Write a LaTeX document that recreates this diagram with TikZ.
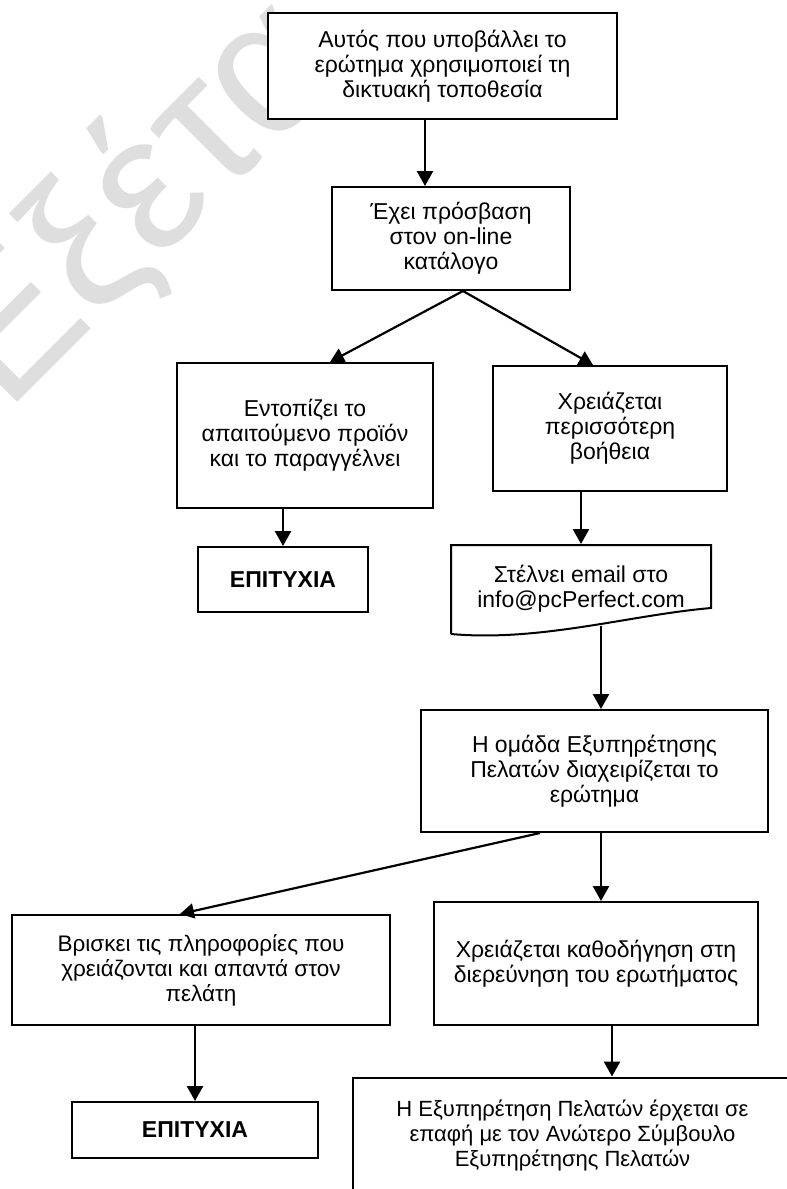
\documentclass[tikz,border=0pt]{standalone}
\usepackage{fontspec}
\setmainfont{Liberation Sans}
\usetikzlibrary{arrows.meta,calc}
\begin{document}
\begin{tikzpicture}[x=1pt,y=-1pt,
  box/.style={draw=black, line width=2pt, fill=white, align=center, inner sep=0pt,
    font=\fontsize{23}{25}\selectfont},
  boldbox/.style={box, font=\fontsize{23}{25}\selectfont\bfseries},
  wmark/.style={text=black!13, inner sep=0pt, font=\fontsize{192}{192}\selectfont},
  varr/.style={line width=2.6pt, -{Triangle[length=15pt,width=16pt]}},
  darr/.style={line width=2.2pt, -{Triangle[length=14pt,width=15pt]}}]
\clip (0,0) rectangle (787,1189);
\fill[white] (0,0) rectangle (787,1189);

% watermark
\node[wmark, rotate=45, anchor=base west] (wm) at (6,414) {Εξέτα};

% boxes
\node[box, minimum width=349pt, minimum height=106pt] (b1) at (442.5,66)
  {Αυτός που υποβάλλει το\\ερώτημα χρησιμοποιεί τη\\δικτυακή τοποθεσία};
\node[box, minimum width=238pt, minimum height=103pt] (b2) at (451,238.5)
  {Έχει πρόσβαση\\στον on-line\\κατάλογο};
\node[box, minimum width=256pt, minimum height=145pt] (b3) at (305,435.5)
  {Εντοπίζει το\\απαιτούμενο προϊόν\\και το παραγγέλνει};
\node[box, minimum width=234pt, minimum height=125pt] (b4) at (610,428.5)
  {Χρειάζεται\\περισσότερη\\βοήθεια};
\node[boldbox, minimum width=170pt, minimum height=65pt] (s1) at (283,579.5) {ΕΠΙΤΥΧΙΑ};

% document shape (email)
\draw[line width=2pt, fill=white] (451,634) -- (451,545) -- (711,545) -- (711,608)
  .. controls (630,615) and (540,642) .. (451,634);
\node[box, draw=none, fill=none, minimum width=260pt, minimum height=88pt] (em) at (581,589)
  {Στέλνει email στο\\info@pcPerfect.com};

\node[box, minimum width=347pt, minimum height=122pt] (b5) at (594.5,771)
  {Η ομάδα Εξυπηρέτησης\\Πελατών διαχειρίζεται το\\ερώτημα};
\node[box, minimum width=324pt, minimum height=123pt] (b6) at (596,963.5)
  {Χρειάζεται καθοδήγηση στη\\διερεύνηση του ερωτήματος};
\node[box, minimum width=439pt, minimum height=115pt, font=\fontsize{22}{25}\selectfont] (b7) at (572.5,1135)
  {Η Εξυπηρέτηση Πελατών έρχεται σε\\επαφή με τον Ανώτερο Σύμβουλο\\Εξυπηρέτησης Πελατών};
\node[box, minimum width=378pt, minimum height=110pt, font=\fontsize{22.5}{25}\selectfont] (b8) at (201,970)
  {Βρισκει τις πληροφορίες που\\χρειάζονται και απαντά στον\\πελάτη};
\node[boldbox, minimum width=246pt, minimum height=56pt] (s2) at (195,1130) {ΕΠΙΤΥΧΙΑ};

% connector x positions
\coordinate (x425) at (425,0);
\coordinate (x463) at (463,0);
\coordinate (x330) at (330,0);
\coordinate (x593) at (593,0);
\coordinate (x601) at (601,0);
\coordinate (x540) at (540,0);
\coordinate (x180) at (180,0);
\coordinate (x612) at (612,0);
\coordinate (emout) at (601,626);

% connectors
\draw[varr] (b1.south -| x425) -- (b2.north -| x425);
\draw[darr] (b2.south -| x463) -- (b3.north -| x330);
\draw[darr] (b2.south -| x463) -- (b4.north -| x593);
\draw[varr] (b3.south -| s1.north) -- (s1.north);
\draw[varr] (b4.south -| em.north) -- (em.north);
\draw[varr] (emout) -- (b5.north -| x601);
\draw[varr] (b5.south -| x601) -- (b6.north -| x601);
\draw[darr] (b5.south -| x540) -- (b8.north -| x180);
\draw[varr] (b6.south -| x612) -- (b7.north -| x612);
\draw[varr] (b8.south -| s2.north) -- (s2.north);
\end{tikzpicture}
\end{document}
